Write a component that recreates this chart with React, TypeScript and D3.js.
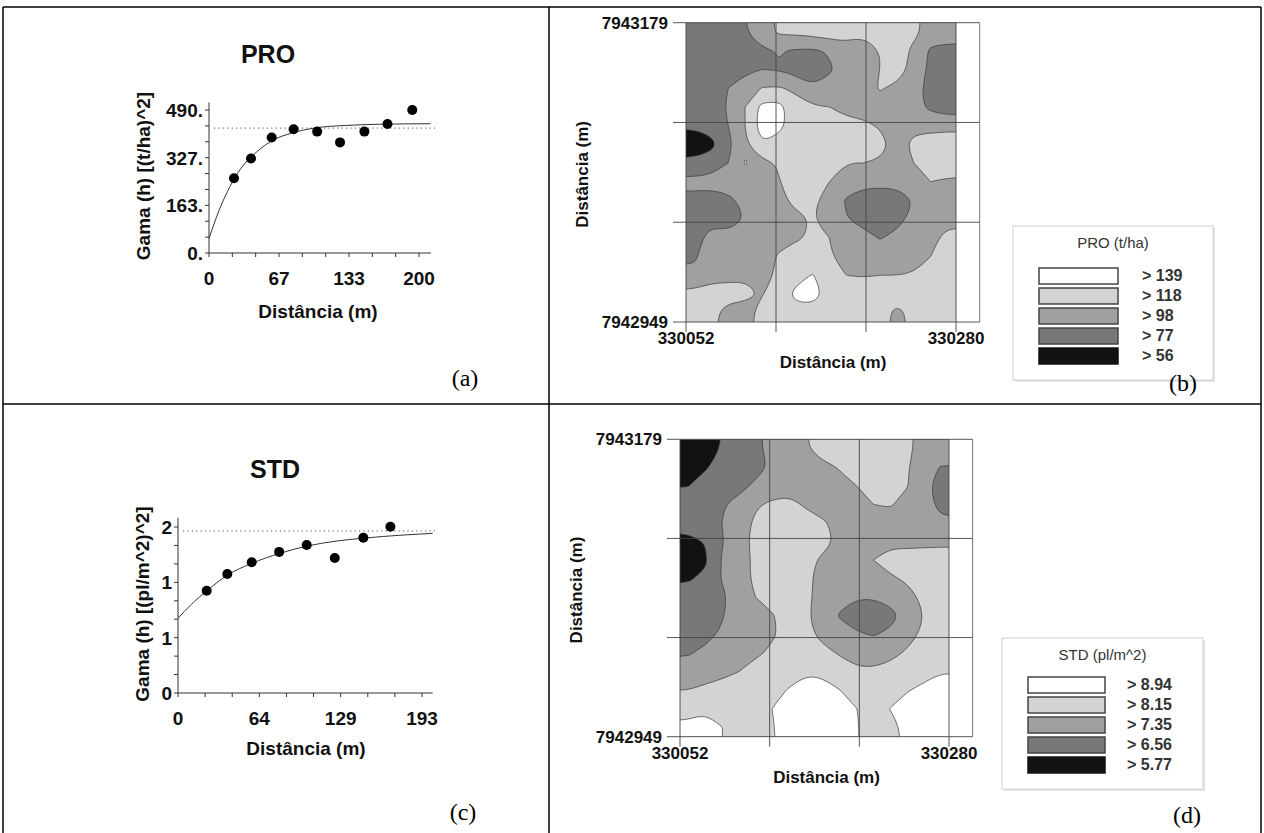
import React from 'react';
import * as d3 from 'd3';

// ---------- variogram (a) PRO ----------
const PRO_LAGS = [23.8, 40, 59.7, 80.6, 103, 124.8, 148, 170, 193.6];
const PRO_GAMMA = [256, 324, 396, 424, 416, 379, 416, 442, 490];
const PRO_MODEL_H = [0, 10, 20, 30, 45, 60, 80, 100, 130, 160, 211];
const PRO_MODEL_G = [50, 150, 228, 288, 345, 385, 412, 428, 437, 441, 443];
const PRO_SILL = 428;
const PRO_X_LABELS = [0, 66.67, 133.33, 200];
const PRO_Y_LABELS = [0, 163.33, 326.67, 490];

// ---------- variogram (c) STD ----------
const STD_LAGS = [22.7, 39, 58.3, 80, 101.8, 124, 146.6, 168];
const STD_GAMMA = [1.233, 1.434, 1.575, 1.7, 1.783, 1.627, 1.871, 2.004];
const STD_MODEL_H = [0, 10, 22.7, 39, 58, 80, 102, 125, 150, 175, 201.5];
const STD_MODEL_G = [0.9, 1.06, 1.23, 1.42, 1.56, 1.68, 1.77, 1.83, 1.87, 1.9, 1.924];
const STD_SILL = 1.952;
const STD_X_LABELS = [0, 64.33, 128.67, 193];
const STD_Y_LABELS = [0, 0.667, 1.333, 2];

// ---------- kriging maps ----------
const EAST = [330052, 330280];
const NORTH = [7942949, 7943179];
const EAST_FRAME = 330300;

// PRO (t/ha), rows north -> south, cols west -> east
const PRO_GRID = [
  [88, 88, 90, 97, 110, 121, 122, 125, 128, 128, 121, 130, 132, 124, 108, 112],
  [88, 88, 90, 92, 95, 99, 96, 95, 100, 108, 110, 118, 130, 112, 95, 90],
  [86, 88, 90, 94, 98, 97, 90, 88, 95, 108, 110, 118, 130, 110, 94, 88],
  [86, 88, 98, 108, 119, 120, 114, 100, 106, 108, 110, 120, 112, 106, 90, 86],
  [84, 86, 101, 118, 145, 146, 126, 120, 118, 112, 110, 108, 108, 104, 94, 88],
  [80, 84, 98, 118, 150, 145, 128, 128, 126, 124, 122, 116, 110, 114, 110, 112],
  [66, 72, 92, 115, 138, 130, 130, 130, 130, 130, 128, 124, 112, 122, 130, 130],
  [82, 86, 98, 119, 112, 120, 128, 128, 122, 118, 118, 116, 110, 118, 128, 130],
  [104, 106, 108, 112, 112, 117, 126, 124, 118, 108, 104, 104, 104, 110, 118, 115],
  [92, 88, 93, 104, 108, 114, 122, 122, 110, 96, 88, 86, 88, 98, 108, 110],
  [88, 95, 92, 98, 108, 110, 114, 119, 108, 99, 92, 88, 92, 104, 108, 114],
  [94, 102, 102, 104, 108, 112, 116, 120, 118, 106, 104, 97, 103, 108, 114, 122],
  [96, 106, 108, 108, 110, 120, 125, 124, 120, 110, 108, 108, 110, 112, 118, 126],
  [101, 112, 114, 116, 114, 120, 132, 140, 128, 118, 117, 118, 118, 119, 124, 128],
  [124, 126, 124, 122, 117, 126, 144, 148, 132, 128, 126, 126, 126, 128, 128, 128],
  [124, 122, 112, 112, 124, 126, 132, 130, 128, 128, 126, 124, 114, 122, 126, 128],
];
const PRO_LEVELS = [56, 77, 98, 118, 139];
const PRO_LEVEL_LABELS = ['> 139', '> 118', '> 98', '> 77', '> 56'];

// STD (pl/m^2)
const STD_GRID = [
  [6.1, 6.2, 6.6, 6.9, 7.2, 7.6, 7.8, 8.1, 8.5, 8.6, 8.6, 8.6, 8.55, 8.3, 7.9, 8.0],
  [6.3, 6.5, 6.8, 7.0, 7.1, 7.45, 7.75, 7.9, 7.95, 8.2, 8.55, 8.7, 8.6, 8.2, 7.8, 7.3],
  [6.55, 6.8, 6.95, 7.1, 7.5, 7.7, 7.85, 7.9, 7.8, 7.95, 8.15, 8.5, 8.6, 8.2, 7.6, 7.0],
  [6.7, 6.95, 7.3, 7.6, 8.05, 8.3, 8.35, 8.05, 7.8, 7.75, 7.9, 8.15, 8.25, 7.8, 7.6, 7.2],
  [6.8, 6.95, 7.35, 7.75, 8.3, 8.5, 8.55, 8.45, 8.25, 7.9, 7.75, 7.7, 7.7, 7.65, 7.55, 7.45],
  [6.4, 6.6, 7.3, 7.8, 8.4, 8.6, 8.6, 8.55, 8.4, 8.0, 8.05, 8.1, 8.0, 7.9, 7.95, 8.0],
  [6.1, 6.45, 7.4, 7.8, 8.3, 8.55, 8.6, 8.4, 8.0, 7.85, 7.95, 8.15, 8.4, 8.55, 8.55, 8.5],
  [6.5, 6.7, 7.4, 7.85, 8.3, 8.55, 8.6, 8.3, 7.9, 7.7, 7.7, 7.85, 8.05, 8.25, 8.55, 8.55],
  [6.8, 6.95, 7.2, 7.75, 8.15, 8.4, 8.6, 8.3, 7.9, 7.5, 7.4, 7.4, 7.6, 7.9, 8.3, 8.55],
  [6.9, 7.0, 7.3, 7.7, 7.9, 8.1, 8.45, 8.25, 7.8, 7.3, 6.95, 6.85, 7.1, 7.6, 8.15, 8.5],
  [6.85, 7.15, 7.45, 7.7, 7.9, 8.1, 8.3, 8.3, 8.0, 7.6, 7.45, 7.3, 7.5, 7.85, 8.3, 8.55],
  [7.3, 7.5, 7.65, 7.85, 8.05, 8.25, 8.5, 8.5, 8.3, 8.1, 7.9, 7.85, 7.95, 8.25, 8.5, 8.55],
  [7.6, 7.75, 7.95, 8.15, 8.4, 8.55, 8.6, 8.85, 8.8, 8.45, 8.25, 8.25, 8.4, 8.55, 8.7, 8.9],
  [8.15, 8.35, 8.45, 8.5, 8.55, 8.7, 9.0, 9.3, 9.2, 8.95, 8.7, 8.6, 8.75, 8.9, 9.1, 9.3],
  [8.7, 8.85, 8.6, 8.5, 8.6, 8.95, 9.3, 9.4, 9.35, 9.15, 8.95, 8.7, 8.95, 9.2, 9.3, 9.3],
  [9.1, 9.2, 8.95, 8.6, 8.6, 8.9, 9.2, 9.3, 9.3, 9.2, 8.98, 8.7, 8.8, 9.05, 9.3, 9.35],
];
const STD_LEVELS = [5.77, 6.56, 7.35, 8.15, 8.94];
const STD_LEVEL_LABELS = ['> 8.94', '> 8.15', '> 7.35', '> 6.56', '> 5.77'];

// fill per class, lowest class first
const SHADES = ['#121212', '#787878', '#a0a0a0', '#d3d3d3', '#ffffff'];

const SANS = 'Liberation Sans, Arial, sans-serif';
const NARROW = 'Liberation Sans Narrow, Arial Narrow, Liberation Sans, sans-serif';
const SERIF = 'Liberation Serif, Times New Roman, serif';

function Variogram(props: any) {
  const { title, titleX, titleY, yLabel, yLabelX, yLabelY, xLabelX, xLabelY,
    xRange, xDomain, yRange, yDomain, xEnd, yEnd, lags, gamma, modelH, modelG, sill,
    xLabels, yLabels, yFmt } = props;
  const x = d3.scaleLinear().domain(xDomain).range(xRange);
  const y = d3.scaleLinear().domain(yDomain).range(yRange);
  const x0 = x(0), y0 = y(0);
  const xTicks = d3.range(0, xEnd, xDomain[1] / 9);
  const yTicks = d3.range(0, yEnd, yDomain[1] / 9);
  const model = d3.line<number>().x((d, i) => x(modelH[i])).y(d => y(d)).curve(d3.curveMonotoneX)(modelG);
  return (
    <g fontFamily={SANS} fontWeight="bold" fill="#111">
      <text x={titleX} y={titleY} textAnchor="middle" fontSize={25}>{title}</text>
      <line x1={x0} x2={x(xEnd)} y1={y0} y2={y0} stroke="#333" />
      <line x1={x0} x2={x0} y1={y0} y2={y(yEnd)} stroke="#333" />
      {xTicks.map((t, i) => <line key={'xt' + i} x1={x(t)} x2={x(t)} y1={y0} y2={y0 + 4} stroke="#333" />)}
      {yTicks.map((t, i) => <line key={'yt' + i} x1={x0 - 4} x2={x0} y1={y(t)} y2={y(t)} stroke="#333" />)}
      {xLabels.map((t: number, i: number) => (
        <text key={'xl' + i} x={x(t)} y={y0 + 32} textAnchor="middle" fontSize={19}>{Math.round(t)}</text>
      ))}
      {yLabels.map((t: number, i: number) => (
        <text key={'yl' + i} x={x0 - 6} y={y(t) + 7} textAnchor="end" fontSize={19}>{yFmt(t)}</text>
      ))}
      <line x1={x(0) + 5} x2={x(xEnd) + 4} y1={y(sill)} y2={y(sill)} stroke="#555" strokeDasharray="1.2,3.2" />
      <path d={model || ''} fill="none" stroke="#333" strokeWidth={1} />
      {lags.map((h: number, i: number) => <circle key={'p' + i} cx={x(h)} cy={y(gamma[i])} r={5} fill="#000" />)}
      <text transform={`translate(${yLabelX},${yLabelY}) rotate(-90)`} textAnchor="middle" fontSize={19}>{yLabel}</text>
      <text x={xLabelX} y={xLabelY} textAnchor="middle" fontSize={19}>Distância (m)</text>
    </g>
  );
}

function padGrid(g: number[][]) {
  const rows = g.map(r => [r[0], ...r, r[r.length - 1]]);
  return [rows[0], ...rows, rows[rows.length - 1]];
}

function KrigingMap(props: any) {
  const { id, grid, levels, left, right, top, bottom, legend, legendTitle, levelLabels } = props;
  const x = d3.scaleLinear().domain(EAST).range([left, right]);
  const y = d3.scaleLinear().domain(NORTH).range([bottom, top]);
  const n = grid[0].length, m = grid.length;
  const padded = padGrid(grid);
  const gx = d3.scaleLinear().domain([1, n + 1]).range([left, right]);
  const gy = d3.scaleLinear().domain([1, m + 1]).range([top, bottom]);
  const ring = d3.line<number[]>().x(p => gx(p[0])).y(p => gy(p[1])).curve(d3.curveBasisClosed);
  const contours = d3.contours().size([n + 2, m + 2]).thresholds(levels.slice(1))(padded.flat());
  const xGrid = d3.range(4).map(k => EAST[0] + k * (EAST[1] - EAST[0]) / 3);
  const yGrid = d3.range(4).map(k => NORTH[0] + k * (NORTH[1] - NORTH[0]) / 3);
  const xr = x(EAST_FRAME);
  const lg = legend;
  return (
    <g>
      <defs>
        <clipPath id={id}><rect x={left} y={top} width={right - left} height={bottom - top} /></clipPath>
      </defs>
      <g clipPath={`url(#${id})`}>
        <rect x={left} y={top} width={right - left} height={bottom - top} fill={SHADES[0]} />
        {contours.map((c, i) => (
          <path key={i} fill={SHADES[i + 1]} stroke="#3a3a3a" strokeWidth={0.7} fillRule="evenodd"
            d={c.coordinates.flatMap(poly => poly.map(r => ring(r.slice(0, -1) as any) || '')).join(' ')} />
        ))}
      </g>
      {yGrid.map((v, i) => <line key={'h' + i} x1={left - 13} x2={xr} y1={y(v)} y2={y(v)} stroke="#444" strokeWidth={0.9} />)}
      {xGrid.map((v, i) => <line key={'v' + i} x1={x(v)} x2={x(v)} y1={top} y2={bottom + 10} stroke="#444" strokeWidth={0.9} />)}
      <line x1={xr} x2={xr} y1={top} y2={bottom} stroke="#666" strokeWidth={0.9} />
      <g fontFamily={SANS} fontWeight="bold" fontSize={17} fill="#111">
        <text x={left - 18} y={y(NORTH[1]) + 6} textAnchor="end">{NORTH[1]}</text>
        <text x={left - 18} y={y(NORTH[0]) + 6} textAnchor="end">{NORTH[0]}</text>
        <text x={x(EAST[0])} y={bottom + 22} textAnchor="middle">{EAST[0]}</text>
        <text x={x(EAST[1])} y={bottom + 22} textAnchor="middle">{EAST[1]}</text>
        <text x={(left + right) / 2 + 12} y={bottom + 46} textAnchor="middle">Distância (m)</text>
        <text transform={`translate(${left - 98},${(top + bottom) / 2 + 2}) rotate(-90)`} textAnchor="middle">Distância (m)</text>
      </g>
      <g>
        <rect x={lg.x + 2} y={lg.y + 2} width={lg.w} height={lg.h} fill="#e4e4e4" />
        <rect x={lg.x} y={lg.y} width={lg.w} height={lg.h} fill="#fff" stroke="#d0d0d0" />
        <text x={lg.x + lg.w / 2} y={lg.y + 22} textAnchor="middle" fontFamily={NARROW} fontSize={15} fill="#333">{legendTitle}</text>
        {levelLabels.map((t: string, i: number) => (
          <g key={i}>
            <rect x={lg.sx} y={lg.sy + i * 20} width={lg.sw} height={16} fill={SHADES[4 - i]}
              stroke={i === 4 ? SHADES[0] : '#444'} strokeWidth={1.5} />
            <text x={lg.tx} y={lg.sy + i * 20 + 13} fontFamily={NARROW} fontWeight="bold" fontSize={16} fill="#333">{t}</text>
          </g>
        ))}
      </g>
    </g>
  );
}

export default function App() {
  return (
    <svg width={1264} height={833} style={{ position: 'absolute', left: 0, top: 0, background: '#fff' }}>
      <Variogram title="PRO" titleX={268} titleY={63} yLabel="Gama (h) [(t/ha)^2]" yLabelX={150} yLabelY={176}
        xLabelX={318} xLabelY={318} xRange={[209, 419]} xDomain={[0, 200]} yRange={[253, 110]} yDomain={[0, 490]}
        xEnd={211.4} yEnd={516} lags={PRO_LAGS} gamma={PRO_GAMMA} modelH={PRO_MODEL_H} modelG={PRO_MODEL_G}
        sill={PRO_SILL} xLabels={PRO_X_LABELS} yLabels={PRO_Y_LABELS} yFmt={(v: number) => Math.round(v) + '.'} />
      <Variogram title="STD" titleX={275} titleY={478} yLabel="Gama (h) [(pl/m^2)^2]" yLabelX={149} yLabelY={604}
        xLabelX={306} xLabelY={755} xRange={[178, 422]} xDomain={[0, 193]} yRange={[693, 527]} yDomain={[0, 2]}
        xEnd={201.5} yEnd={2.11} lags={STD_LAGS} gamma={STD_GAMMA} modelH={STD_MODEL_H} modelG={STD_MODEL_G}
        sill={STD_SILL} xLabels={STD_X_LABELS} yLabels={STD_Y_LABELS} yFmt={(v: number) => String(Math.round(v))} />
      <KrigingMap id="clipB" grid={PRO_GRID} levels={PRO_LEVELS} left={686} right={956} top={22.7} bottom={322}
        legendTitle="PRO (t/ha)" levelLabels={PRO_LEVEL_LABELS}
        legend={{ x: 1013, y: 226, w: 200, h: 154, sx: 1039, sy: 268, sw: 79, tx: 1142 }} />
      <KrigingMap id="clipD" grid={STD_GRID} levels={STD_LEVELS} left={680} right={949} top={439.3} bottom={736.7}
        legendTitle="STD (pl/m^2)" levelLabels={STD_LEVEL_LABELS}
        legend={{ x: 1002, y: 638, w: 201, h: 151, sx: 1028, sy: 677, sw: 77, tx: 1127 }} />
      <g fontFamily={SERIF} fontSize={24} fill="#000">
        <text x={465} y={386} textAnchor="middle">(a)</text>
        <text x={1183} y={391} textAnchor="middle">(b)</text>
        <text x={463} y={820} textAnchor="middle">(c)</text>
        <text x={1187} y={823} textAnchor="middle">(d)</text>
      </g>
      <g stroke="#000" strokeWidth={1.5}>
        <line x1={3} x2={1261} y1={7} y2={7} />
        <line x1={3} x2={1261} y1={404} y2={404} />
        <line x1={3} x2={3} y1={7} y2={833} />
        <line x1={549} x2={549} y1={7} y2={833} />
        <line x1={1261} x2={1261} y1={7} y2={833} />
      </g>
    </svg>
  );
}
